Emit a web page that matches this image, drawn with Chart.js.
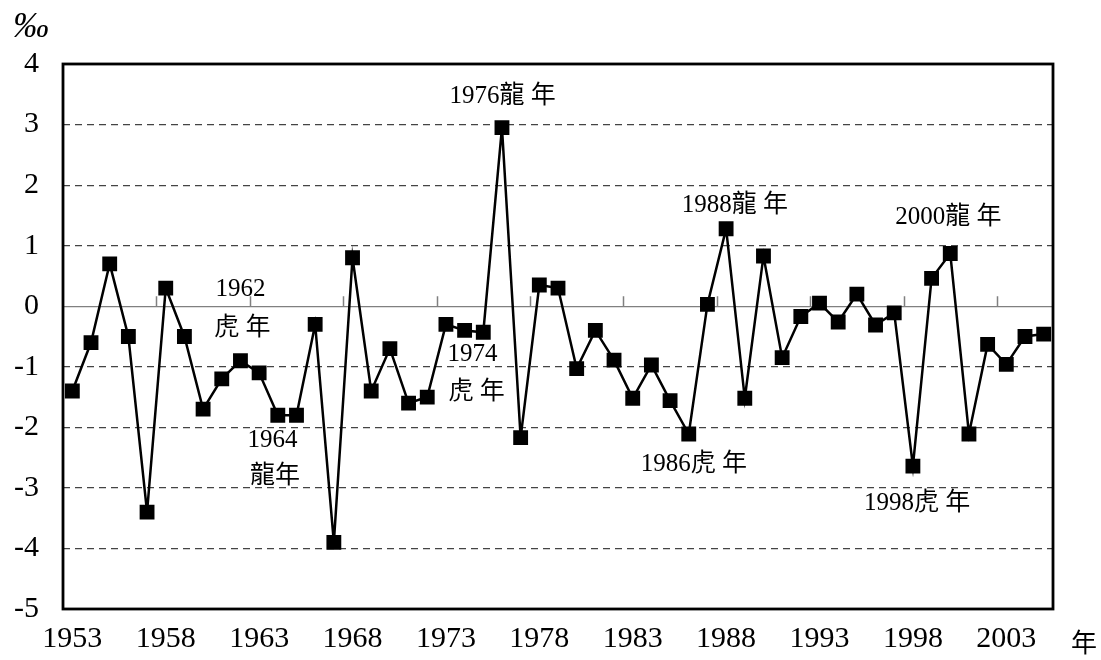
<!DOCTYPE html>
<html>
<head>
<meta charset="utf-8">
<script src="https://cdn.jsdelivr.net/npm/chart.js@4.4.1/dist/chart.umd.min.js"></script>
<style>
  html, body { margin: 0; padding: 0; background: #fff; }
  #wrap { width: 1101px; height: 660px; }
</style>
</head>
<body>
<div id="wrap"><canvas id="chart" width="1101" height="660"></canvas></div>
<script>
// Years on the x axis
const years = [
  '1953','1954','1955','1956','1957','1958','1959','1960','1961','1962',
  '1963','1964','1965','1966','1967','1968','1969','1970','1971','1972',
  '1973','1974','1975','1976','1977','1978','1979','1980','1981','1982',
  '1983','1984','1985','1986','1987','1988','1989','1990','1991','1992',
  '1993','1994','1995','1996','1997','1998','1999','2000','2001','2002',
  '2003','2004','2005'
];

// Values in per mille
const values = [
  -1.40, -0.60,  0.70, -0.50, -3.40,  0.30, -0.50, -1.70, -1.20, -0.90,
  -1.10, -1.80, -1.80, -0.30, -3.90,  0.80, -1.40, -0.70, -1.60, -1.50,
  -0.30, -0.40, -0.43,  2.95, -2.17,  0.35,  0.30, -1.03, -0.40, -0.89,
  -1.52, -0.97, -1.56, -2.11,  0.03,  1.28, -1.52,  0.83, -0.85, -0.17,
   0.05, -0.26,  0.20, -0.31, -0.11, -2.64,  0.46,  0.87, -2.11, -0.63,
  -0.96, -0.50, -0.46
];

// Every 5th year gets a label
const labelEvery = 5;

// Notes placed in data units (year, value)
const noteTexts  = ['1962', '虎 年', '1964', '龍年', '1974', '虎 年', '1976龍 年', '1988龍 年', '2000龍 年', '1986虎 年', '1998虎 年'];
const noteYears  = [1962.0, 1962.1, 1963.72, 1963.85, 1974.42, 1974.65, 1976.03, 1988.47, 1999.9, 1986.28, 1998.22];
const noteValues = [0.27, -0.36, -2.21, -2.81, -0.79, -1.42, 3.47, 1.67, 1.47, -2.62, -3.25];

const FONT = '"Liberation Serif", "Noto Sans CJK TC", serif';

const decor = {
  id: 'decor',
  beforeDatasetsDraw(chart) {
    const { ctx, chartArea: a, scales: { x, y } } = chart;
    const zeroY = y.getPixelForValue(0);
    const half = (x.getPixelForValue(1) - x.getPixelForValue(0)) / 2;
    ctx.save();
    // small tick marks on the zero line
    ctx.strokeStyle = '#808080';
    ctx.lineWidth = 1.5;
    ctx.beginPath();
    for (let i = labelEvery; i < years.length; i += labelEvery) {
      const px = Math.round(x.getPixelForValue(i) - half) + 0.5;
      ctx.moveTo(px, zeroY);
      ctx.lineTo(px, zeroY - 10);
    }
    ctx.stroke();
    // plot frame
    ctx.strokeStyle = '#000';
    ctx.lineWidth = 2.8;
    ctx.strokeRect(a.left, a.top, a.right - a.left, a.bottom - a.top);
    ctx.restore();
  },
  afterDraw(chart) {
    const { ctx, scales: { x, y } } = chart;
    ctx.save();
    ctx.fillStyle = '#000';
    ctx.textAlign = 'center';
    ctx.textBaseline = 'middle';
    ctx.font = '25px ' + FONT;
    noteTexts.forEach((t, i) => {
      ctx.fillText(t, x.getPixelForValue(noteYears[i] - 1953), y.getPixelForValue(noteValues[i]));
    });
    ctx.font = 'italic 36px ' + FONT;
    ctx.fillText('‰', 31, 28);
    ctx.font = '26px ' + FONT;
    ctx.fillText('年', 1084, 645);
    ctx.restore();
  }
};

new Chart(document.getElementById('chart'), {
  type: 'line',
  data: {
    labels: years,
    datasets: [{
      data: values,
      borderColor: '#000',
      borderWidth: 2.5,
      pointStyle: 'rect',
      pointRadius: 10.5,
      pointBackgroundColor: '#000',
      pointBorderColor: '#000',
      pointBorderWidth: 0,
      tension: 0,
      fill: false
    }]
  },
  plugins: [decor],
  options: {
    responsive: false,
    animation: false,
    layout: { padding: { top: 64, right: 48, left: 0, bottom: 0 } },
    plugins: {
      legend: { display: false },
      tooltip: { enabled: false }
    },
    scales: {
      x: {
        type: 'category',
        offset: true,
        grid: { display: false, drawTicks: false },
        border: { display: false },
        ticks: {
          autoSkip: false,
          maxRotation: 0,
          padding: 12,
          color: '#000',
          font: { family: FONT, size: 30 },
          callback: function(v, i) {
            return i % labelEvery === 0 ? this.getLabelForValue(v) : '';
          }
        },
        afterFit: s => { s.height = 51; }
      },
      y: {
        min: -5,
        max: 4,
        ticks: {
          stepSize: 1,
          padding: 24,
          color: '#000',
          font: { family: FONT, size: 30 }
        },
        grid: {
          drawTicks: false,
          lineWidth: 1.2,
          color: c => {
            const v = c.tick ? c.tick.value : null;
            if (v === 4 || v === -5) return 'rgba(0,0,0,0)';
            return v === 0 ? '#808080' : '#444';
          }
        },
        border: {
          display: false,
          dash: c => (c.tick && c.tick.value === 0) ? [] : [7, 5]
        },
        afterFit: s => { s.width = 63; }
      }
    }
  }
});
</script>
</body>
</html>
